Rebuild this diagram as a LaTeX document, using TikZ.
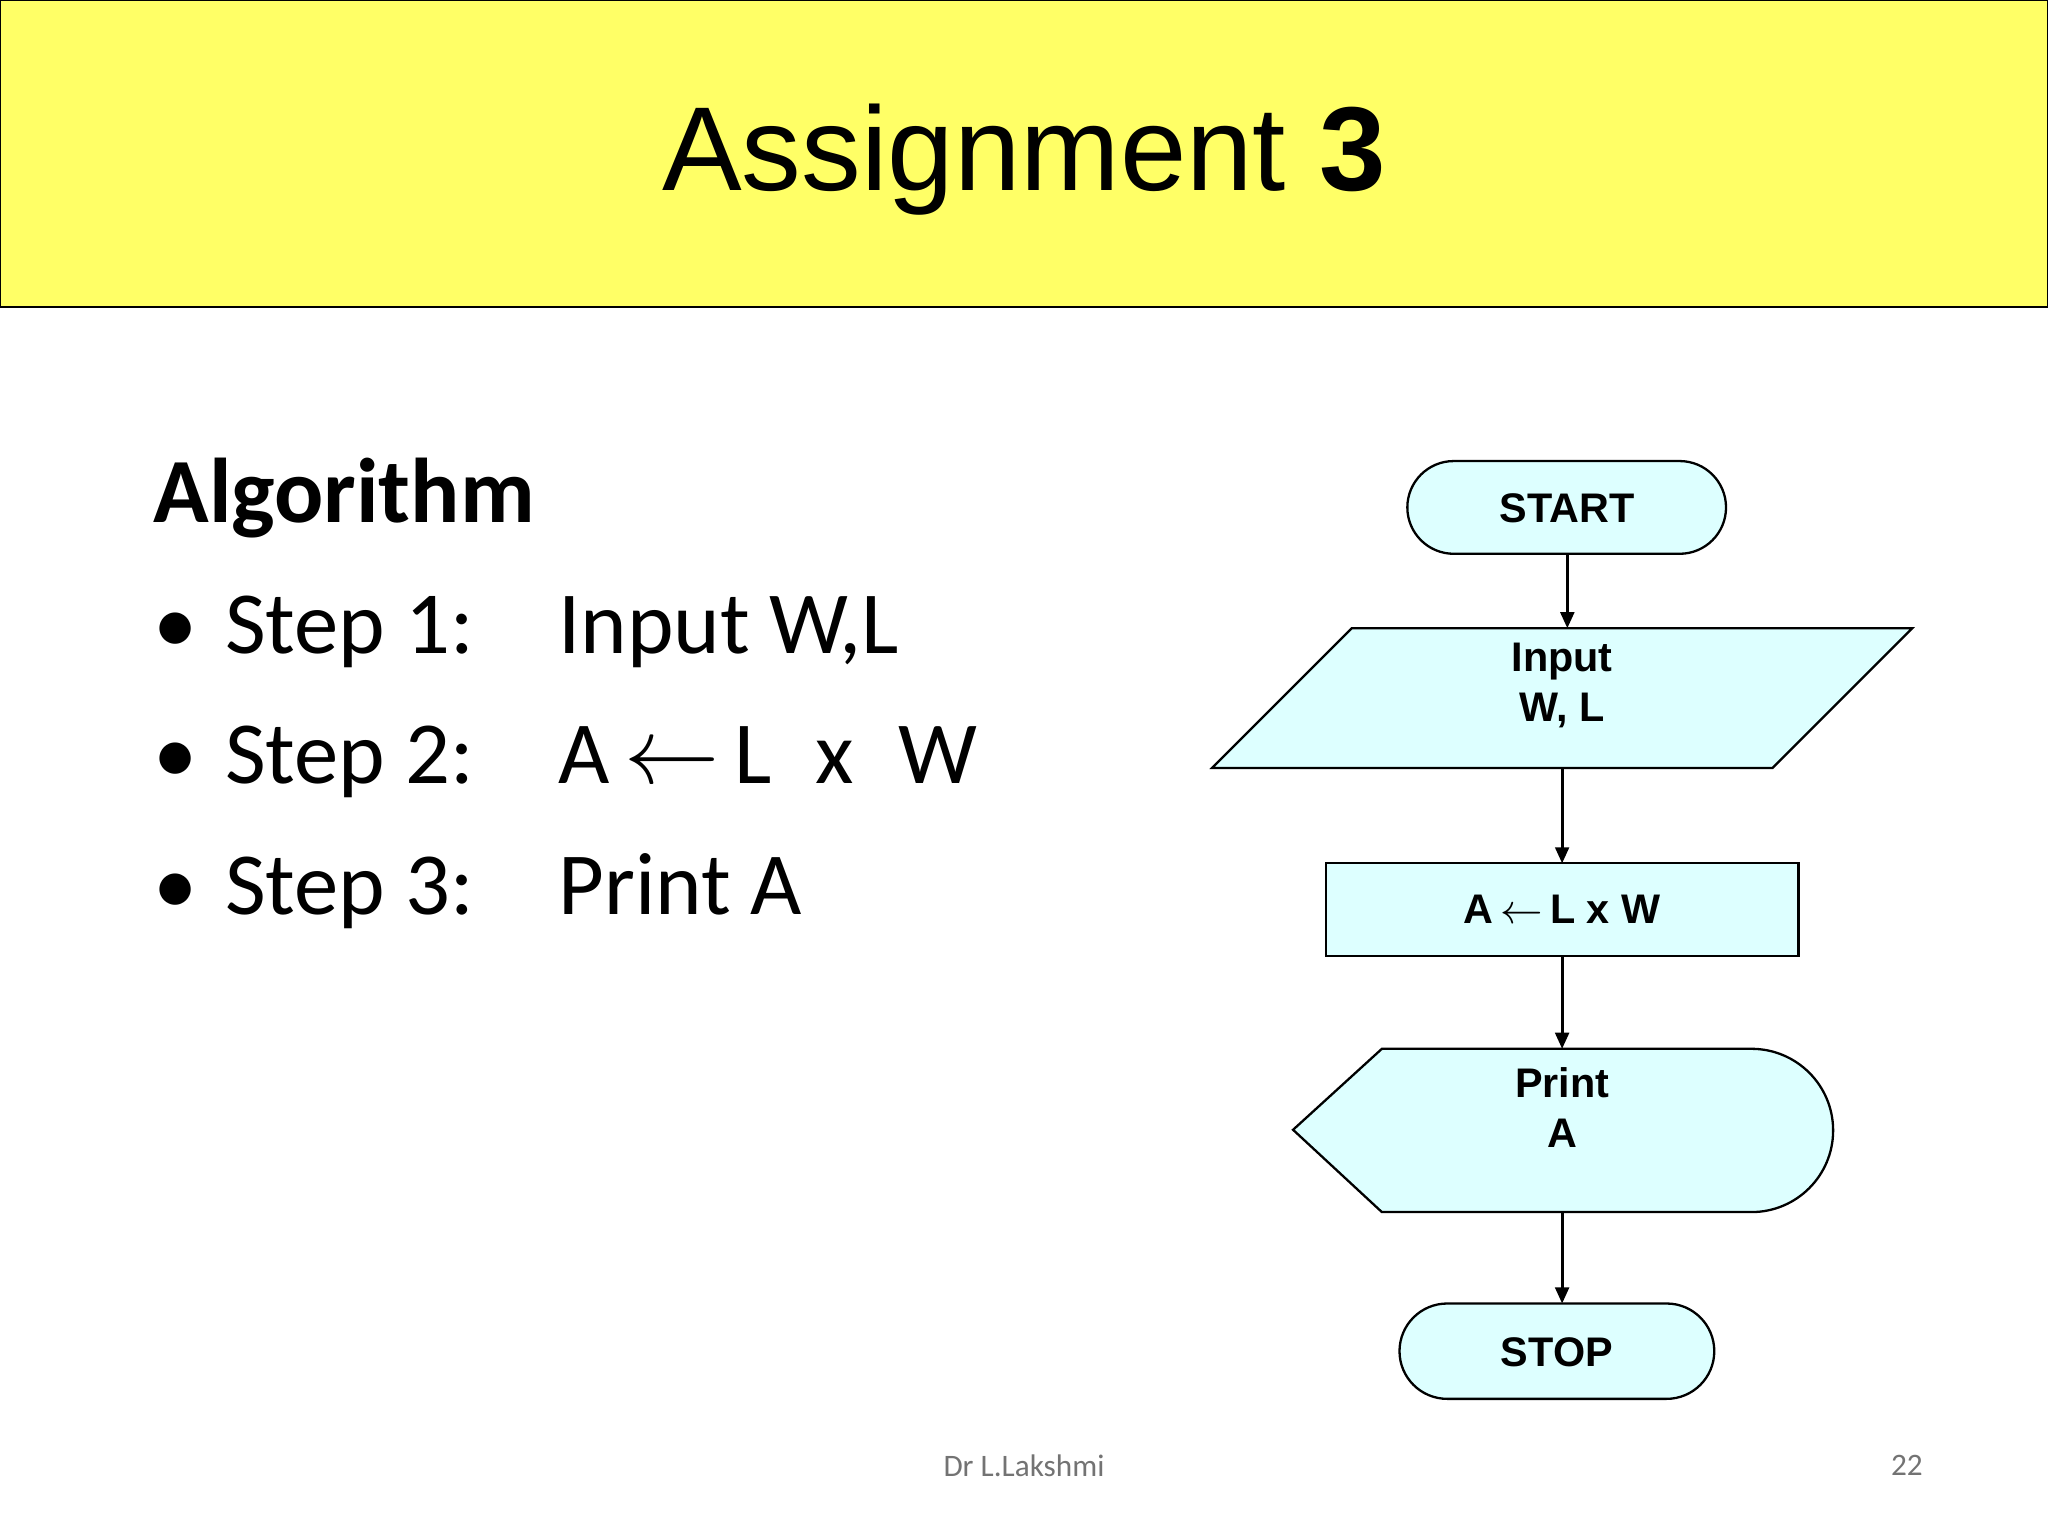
\documentclass[tikz,border=0pt]{standalone}
\usepackage{fontspec}
\setmainfont{Carlito}
\newfontfamily\arial{Liberation Sans}
\usetikzlibrary{arrows.meta}
\definecolor{band}{HTML}{FFFF66}
\definecolor{fc}{HTML}{DDFFFF}
\tikzset{
  shp/.style={draw=black,fill=fc,line width=0.5pt},
  lbl/.style={font=\arial\bfseries\fontsize{9}{11}\selectfont,align=center},
  conn/.style={-{Triangle[length=3.5pt,width=3pt]},line width=0.6pt},
  stp/.style={anchor=base west,font=\fontsize{19.3}{24}\selectfont}
}
\begin{document}
\begin{tikzpicture}[x=0.01cm,y=-0.01cm]
\useasboundingbox (0,0) rectangle (1568,1176);
\fill[white] (0,0) rectangle (1568,1176);
\draw[fill=band,line width=0.6pt] (0,0) rectangle (1568,235);
\node[font=\arial\fontsize{26}{30}\selectfont] (title) at (784,122) {Assignment \textbf{3}};
% algorithm
\node[stp,font=\bfseries\fontsize{20}{24}\selectfont] (alg) at (105,400) {Algorithm};
\foreach \y/\s/\t [count=\i] in {500/1/{Input W,L},600/2/{A\,$\leftarrow$\,L\enspace x\enspace W},700/3/{Print A}}{
  \node[stp] (b\i) at (105,\y) {\textbullet};
  \node[stp] (s\i) at (160,\y) {Step \s:};
  \node[stp] (t\i) at (415,\y) {\t};
}
% flowchart
\draw[shp] (1113,353) -- (1286,353) arc[start angle=-90,end angle=90,radius=35.5] -- (1113,424) arc[start angle=90,end angle=270,radius=35.5] -- cycle;
\node[lbl] (start) at (1200,389) {START};
\coordinate (startb) at (1200,424);
\draw[shp] (928,588) -- (1035,481) -- (1464,481) -- (1357,588) -- cycle;
\node[lbl] (input) at (1196,525) {Input\\W, L};
\coordinate (int) at (1200,481);
\coordinate (inb) at (1196,588);
\draw[shp] (1015,661) rectangle (1377,732);
\node[lbl] (proc) at (1196,696) {A\,$\leftarrow$\,L x W};
\coordinate (prt) at (1196,661);
\coordinate (prb) at (1196,732);
\draw[shp] (990,865) -- (1058,803) -- (1341,803) arc[start angle=-90,end angle=90,radius=62.5] -- (1058,928) -- cycle;
\node[lbl] (print) at (1196,848) {Print\\A};
\coordinate (pt) at (1196,803);
\coordinate (pb) at (1196,928);
\draw[shp] (1108,998) -- (1276,998) arc[start angle=-90,end angle=90,radius=36.5] -- (1108,1071) arc[start angle=90,end angle=270,radius=36.5] -- cycle;
\node[lbl] (stop) at (1192,1035) {STOP};
\coordinate (st) at (1196,998);
\draw[conn] (startb) -- (int);
\draw[conn] (inb) -- (prt);
\draw[conn] (prb) -- (pt);
\draw[conn] (pb) -- (st);
% footer
\node[font=\fontsize{6.8}{8}\selectfont,text=black!55] (foot) at (784,1122) {Dr L.Lakshmi};
\node[font=\fontsize{6.8}{8}\selectfont,text=black!55] (pg) at (1460,1122) {22};
\end{tikzpicture}
\end{document}
